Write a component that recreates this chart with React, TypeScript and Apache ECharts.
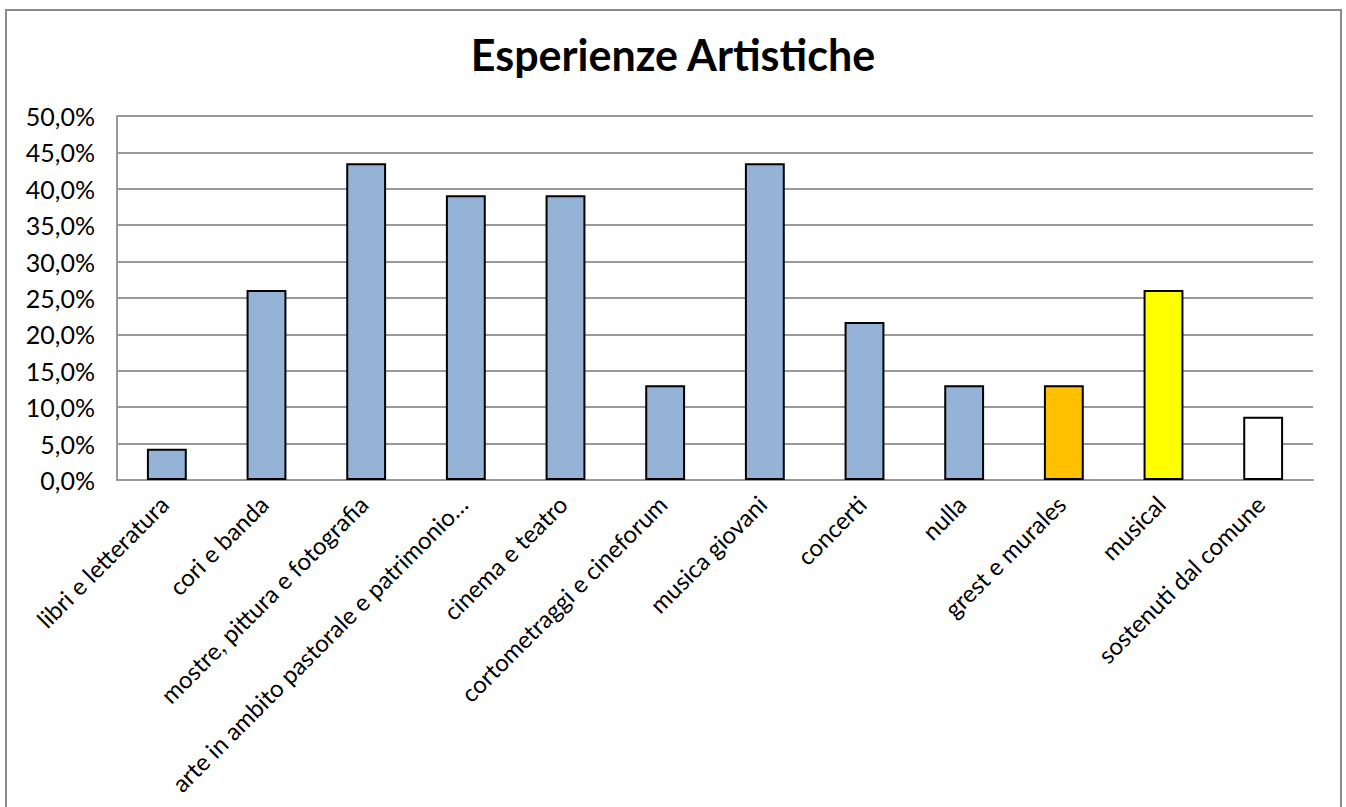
import React, { useEffect, useRef } from "react";
import * as echarts from "echarts";

const categories = [
  "libri e letteratura",
  "cori e banda",
  "mostre, pittura e fotografia",
  "arte in ambito pastorale e patrimonio…",
  "cinema e teatro",
  "cortometraggi e cineforum",
  "musica giovani",
  "concerti",
  "nulla",
  "grest e murales",
  "musical",
  "sostenuti dal comune",
];
const values = [4.3, 26.1, 43.5, 39.1, 39.1, 13.0, 43.5, 21.7, 13.0, 13.0, 26.1, 8.7];
const barColors = [
  "#95B3D7", "#95B3D7", "#95B3D7", "#95B3D7", "#95B3D7", "#95B3D7",
  "#95B3D7", "#95B3D7", "#95B3D7", "#FFC000", "#FFFF00", "#FFFFFF",
];
const title = "Esperienze Artistiche";

const FONT = "Lato";

export default function App() {
  const ref = useRef<HTMLDivElement>(null);
  useEffect(() => {
    if (!ref.current) return;
    const chart = echarts.init(ref.current, undefined, { renderer: "svg" });
    chart.setOption({
      animation: false,
      backgroundColor: "#ffffff",
      title: {
        text: title,
        left: "center",
        top: 28,
        textStyle: { fontFamily: FONT, fontWeight: "bold", fontSize: 43, color: "#000" },
      },
      graphic: [
        {
          type: "rect",
          shape: { x: 6, y: 10, width: 1335, height: 820 },
          style: { fill: "none", stroke: "#8c8c8c", lineWidth: 2 },
          silent: true,
        },
      ],
      grid: { left: 117, right: 33, top: 116, bottom: 327, containLabel: false },
      xAxis: {
        type: "category",
        data: categories,
        axisLine: { lineStyle: { color: "#999", width: 2 } },
        axisTick: { show: false },
        axisLabel: {
          interval: 0,
          rotate: 45,
          margin: 17,
          padding: [0, 4, 0, 0],
          fontFamily: FONT,
          fontSize: 24,
          color: "#000",
        },
      },
      yAxis: {
        type: "value",
        min: 0,
        max: 50,
        interval: 5,
        axisLine: { show: true, lineStyle: { color: "#999", width: 2 } },
        axisTick: { show: false },
        splitLine: { lineStyle: { color: "#999", width: 2 } },
        axisLabel: {
          margin: 22,
          fontFamily: FONT,
          fontSize: 25,
          color: "#000",
          formatter: (v: number) => v.toFixed(1).replace(".", ",") + "%",
        },
      },
      series: [
        {
          type: "bar",
          barWidth: "40%",
          data: values.map((v, i) => ({
            value: v,
            itemStyle: { color: barColors[i], borderColor: "#000", borderWidth: 2 },
          })),
        },
      ],
    });
    return () => chart.dispose();
  }, []);
  return (
    <div
      ref={ref}
      style={{ position: "fixed", left: 0, top: 0, width: 1346, height: 807 }}
    />
  );
}
